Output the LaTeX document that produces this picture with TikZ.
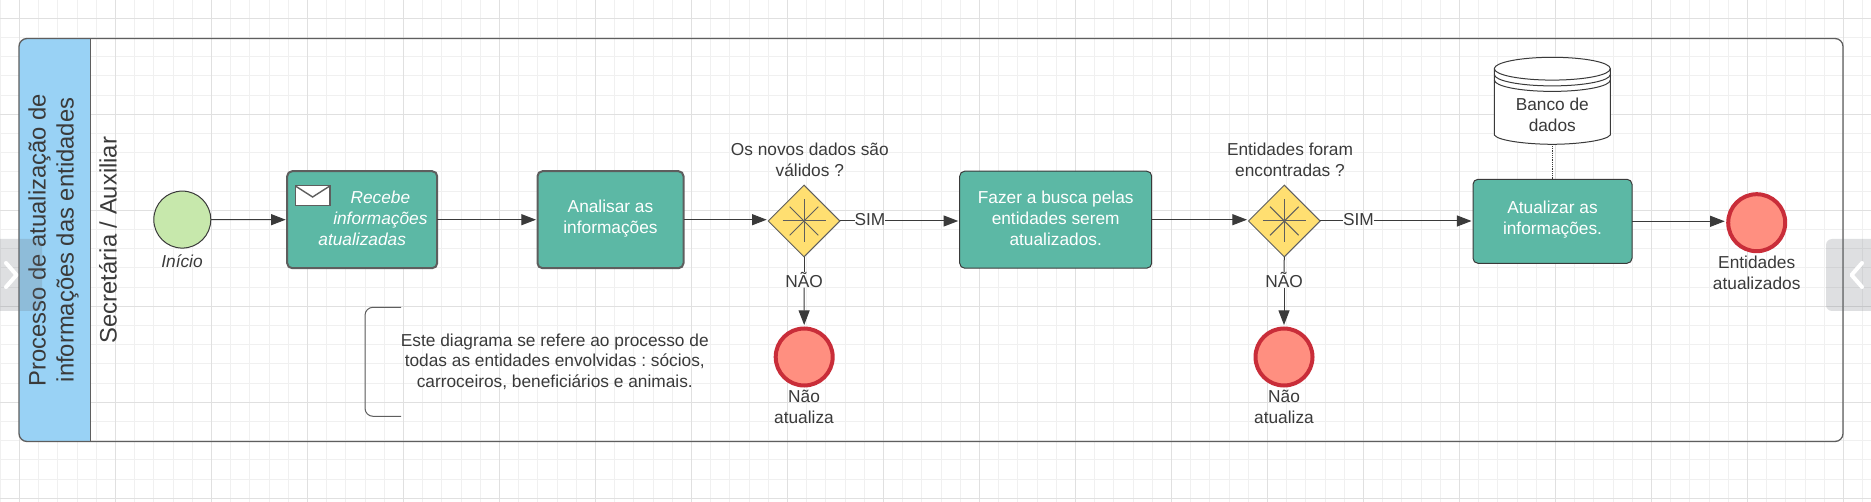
\documentclass[tikz,border=0pt]{standalone}
\usepackage{fontspec}
\setmainfont{Liberation Sans}
\usetikzlibrary{arrows.meta,shapes.geometric,calc}
\frenchspacing
\definecolor{gridminor}{HTML}{F0F0F0}
\definecolor{gridmajor}{HTML}{E0E0E0}
\definecolor{poolline}{HTML}{5E5E5E}
\definecolor{poolblue}{HTML}{99D2F5}
\definecolor{teal}{HTML}{5CB8A5}
\definecolor{ink}{HTML}{3A3A3A}
\definecolor{startgreen}{HTML}{C7E8AC}
\definecolor{gateyellow}{HTML}{FFDF71}
\definecolor{endred}{HTML}{FF8F80}
\definecolor{endline}{HTML}{C92D39}
\definecolor{tabgrey}{HTML}{6B7078}
\newcommand{\tb}[4]{\parbox[c][#2pt][t]{#1pt}{\centering\vspace*{#3pt}\strut #4}}
\tikzset{
  txt/.style={font=\fontsize{17.3}{21}\selectfont,text=ink,align=center,inner sep=0pt,outer sep=0pt},
  task/.style={draw=poolline,line width=2pt,fill=teal,rounded corners=5pt,inner sep=0pt,outer sep=0pt,text=white,font=\fontsize{17.3}{21}\selectfont},
  taskthin/.style={task,line width=1pt,draw=ink},
  startev/.style={circle,draw=ink,line width=1pt,fill=startgreen,minimum size=57pt,inner sep=0pt,outer sep=0pt},
  endev/.style={circle,draw=endline,line width=4pt,fill=endred,minimum size=57pt,inner sep=0pt,outer sep=2pt},
  gate/.style={diamond,draw=poolline,line width=1pt,fill=gateyellow,minimum width=71.6pt,minimum height=71.6pt,inner sep=0pt,outer sep=0pt},
  flow/.style={draw=ink,line width=1pt,-{Triangle[length=14.6pt,width=11pt]},shorten >=1.5pt},
  plain/.style={draw=poolline,line width=1pt},
  glyphline/.style={draw=poolline,line width=1pt},
}
\begin{document}
\begin{tikzpicture}[x=1pt,y=-1pt]
\useasboundingbox (0,0) rectangle (1871,502);
\fill[white] (0,0) rectangle (1871,502);
% grid
\foreach \i in {0,...,97}{\draw[gridminor,line width=1pt] ({0.2+19.2*\i},0) -- ({0.2+19.2*\i},502);}
\foreach \j in {0,...,25}{\draw[gridminor,line width=1pt] (0,{18.3+19.2*\j}) -- (1871,{18.3+19.2*\j});}
\foreach \i in {0,...,19}{\draw[gridmajor,line width=1pt] ({19.4+96*\i},0) -- ({19.4+96*\i},502);}
\foreach \j in {0,...,5}{\draw[gridmajor,line width=1pt] (0,{18.3+96*\j}) -- (1871,{18.3+96*\j});}
% pool
\fill[poolblue] (90.5,38.5) -- (27,38.5) arc[start angle=270,end angle=180,radius=8] -- (19,433.5) arc[start angle=180,end angle=90,radius=8] -- (90.5,441.5) -- cycle;
\node[draw=poolline,line width=1.3pt,rounded corners=8pt,minimum width=1824pt,minimum height=403pt,inner sep=0pt,outer sep=0pt] (pool) at (931,240) {};
\draw[plain] (90.5,38.5) -- (90.5,441.5);
\node[rotate=90,font=\fontsize{23.8}{28}\selectfont,text=ink,align=center,inner sep=0pt] (title) at (53.5,240) {Processo de atualização de\\informações das entidades};
\node[rotate=90,font=\fontsize{23.8}{28}\selectfont,text=ink,inner sep=0pt] (lane) at (108,240) {Secretária / Auxiliar};
% events and tasks
\node[startev] (start) at (182.3,219.6) {};
\node[txt,font=\fontsize{17.3}{21}\selectfont\itshape] (startlbl) at (182,261.5) {Início};
\node[task,font=\fontsize{17.3}{21}\selectfont\itshape] (recv) at (362.2,219.7) {\tb{150}{97}{17.3}{\hspace*{36.4pt}Recebe\\\hspace*{36.4pt}informações\\atualizadas}};
\draw[glyphline,fill=white,line width=1.6pt] (295.4,185.7) rectangle (329.8,205.7);
\draw[glyphline,line width=1.4pt] (295.4,186) -- (312.6,197) -- (329.8,186);
\node[task] (anal) at (610.5,219.7) {\tb{146}{97}{26.3}{Analisar as\\informações}};
\node[gate] (g1) at (804,221) {};
\node[txt] (q1) at (809.8,159.5) {Os novos dados são\\válidos ?};
\node[txt] (sim1) at (870,219.5) {SIM};
\node[txt] (nao1) at (804,280) {NÃO};
\node[endev] (end1) at (804.2,357) {};
\node[txt] (end1lbl) at (804,406.5) {Não\\atualiza};
\node[taskthin] (busca) at (1055.7,219.7) {\tb{192}{97}{17.3}{Fazer a busca pelas\\entidades serem\\atualizados.}};
\node[gate] (g2) at (1284.3,221) {};
\node[txt] (q2) at (1290,159.5) {Entidades foram\\encontradas ?};
\node[txt] (sim2) at (1358.5,219.5) {SIM};
\node[txt] (nao2) at (1284,280) {NÃO};
\node[endev] (end2) at (1284,357) {};
\node[txt] (end2lbl) at (1284,406.5) {Não\\atualiza};
\node[taskthin] (upd) at (1552.5,221.3) {\tb{159}{84}{20}{Atualizar as\\informações.}};
\node[endev] (end3) at (1756.7,222.7) {};
\node[txt] (end3lbl) at (1756.7,272.5) {Entidades\\atualizados};
% gateway markers
\foreach \g in {g1,g2}{
  \draw[glyphline] ($(\g)+(-21.5,0)$) -- ($(\g)+(21.5,0)$);
  \draw[glyphline] ($(\g)+(0,-21.5)$) -- ($(\g)+(0,21.5)$);
  \draw[glyphline] ($(\g)+(-14.3,-14.3)$) -- ($(\g)+(14.3,14.3)$);
  \draw[glyphline] ($(\g)+(-14.3,14.3)$) -- ($(\g)+(14.3,-14.3)$);
}
% database
\draw[draw=ink,line width=1pt,fill=white] (1494.3,68.7) arc[x radius=58,y radius=11.4,start angle=180,end angle=360] -- (1610.3,135) .. controls (1606,141) and (1575,144.3) .. (1552.3,144.3) .. controls (1529,144.3) and (1498,141) .. (1494.3,135) -- cycle;
\draw[draw=ink,line width=1pt] (1494.3,68.7) arc[x radius=58,y radius=11.4,start angle=180,end angle=0];
\draw[draw=ink,line width=1pt] (1494.3,74.5) arc[x radius=58,y radius=11.4,start angle=180,end angle=0];
\draw[draw=ink,line width=1pt] (1494.3,80) arc[x radius=58,y radius=11.4,start angle=180,end angle=0];
\node[inner sep=0pt,outer sep=0pt,text=ink,font=\fontsize{17.3}{21}\selectfont] (db) at (1552.3,100.8) {\tb{116}{87}{39}{Banco de\\dados}};
\draw[ink,line width=.8pt,densely dotted] (db.south) -- (db.south |- upd.north);
% annotation
\node[txt,font=\fontsize{17.3}{20.5}\selectfont] (note) at (554.8,361.5) {Este diagrama se refere ao processo de\\todas as entidades envolvidas : sócios,\\carroceiros, beneficiários e animais.};
\coordinate (bt) at (401,307.3);
\coordinate (bb) at (401,416.3);
\draw[plain,rounded corners=8pt] (bt) -- (365,307.3) -- (365,416.3) -- (bb);
% connectors
\draw[flow] (start.east) -- (recv.west);
\draw[flow] (recv.east) -- (anal.west);
\draw[flow] (anal.east) -- (anal.east -| g1.west);
\draw[plain,draw=ink] (g1.east) -- (sim1.west |- g1.east);
\draw[flow] (sim1.east |- g1.east) -- (busca.west |- g1.east);
\draw[plain,draw=ink] (g1.south) -- (nao1.north);
\draw[flow] (nao1.south) -- (end1.north);
\draw[flow] (busca.east) -- (busca.east -| g2.west);
\draw[plain,draw=ink] (g2.east) -- (sim2.west |- g2.east);
\draw[flow] (sim2.east |- g2.east) -- (upd.west |- g2.east);
\draw[plain,draw=ink] (g2.south) -- (nao2.north);
\draw[flow] (nao2.south) -- (end2.north);
\draw[flow] (upd.east) -- (end3.west |- upd.east);
% side tabs
\fill[tabgrey,opacity=.22,rounded corners=6pt] (-10,239) rectangle (42,311);
\fill[tabgrey,opacity=.22,rounded corners=6pt] (1826,239) rectangle (1885,311);
\draw[white,line width=4pt,line cap=round,line join=round] (6,263) -- (16.5,275) -- (6,287);
\draw[white,line width=4pt,line cap=round,line join=round] (1862,263) -- (1851.5,275) -- (1862,287);
\end{tikzpicture}
\end{document}
